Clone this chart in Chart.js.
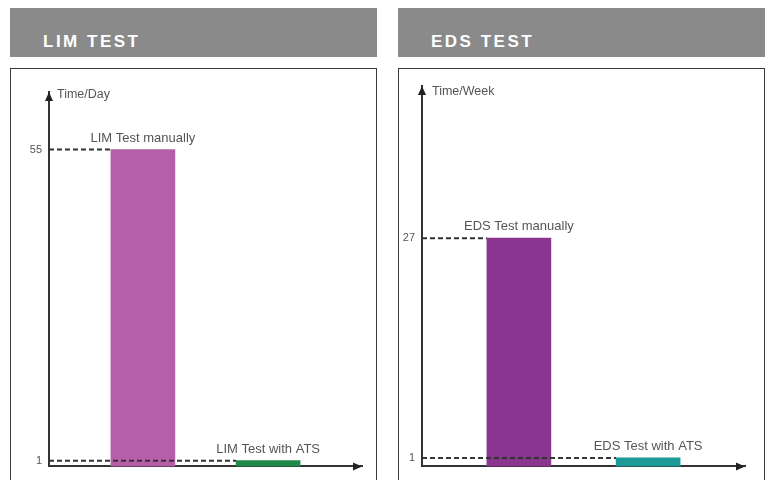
<!DOCTYPE html>
<html>
<head>
<meta charset="utf-8">
<script src="https://cdn.jsdelivr.net/npm/chart.js@4/dist/chart.umd.min.js"></script>
<style>
  body { margin: 0; width: 768px; height: 480px; background: #fff; position: relative; overflow: hidden; font-family: "Liberation Sans", Arial, sans-serif; }
  .head { position: absolute; top: 8px; width: 367px; height: 49px; background: #8a8a8b; }
  .head span { position: absolute; left: 33px; top: 24px; color: #fff; font-weight: bold; font-size: 17px; letter-spacing: 2.5px; }
  .box { position: absolute; top: 68px; width: 365px; height: 420px; border: 1px solid #3a3a3a; }
  canvas { position: absolute; top: 68px; }
</style>
</head>
<body>
<div class="head" style="left:10px"><span>LIM TEST</span></div>
<div class="head" style="left:398px"><span>EDS TEST</span></div>
<div class="box" style="left:10px"></div>
<div class="box" style="left:398px"></div>
<canvas id="limChart" width="367" height="412" style="left:10px"></canvas>
<canvas id="edsChart" width="367" height="412" style="left:398px"></canvas>
<script>
// LIM test (time per day)
var limCategories = ['LIM Test manually', 'LIM Test with ATS'];
var limValues = [55, 1];
var limTicks = [1, 55];
var limColors = ['#b45fa8', '#1f8a4a'];

// EDS test (time per week)
var edsCategories = ['EDS Test manually', 'EDS Test with ATS'];
var edsValues = [27, 1];
var edsTicks = [1, 27];
var edsColors = ['#8a3590', '#1b9a98'];

var sketchPlugin = {
    id: 'sketch',
    afterDatasetsDraw: function(chart, args, opts) {
        var ctx = chart.ctx;
        var area = chart.chartArea;
        var y = chart.scales.y;
        var bars = chart.getDatasetMeta(0).data;
        var vals = chart.data.datasets[0].data;
        ctx.save();
        // dashed guide lines from the y axis to each bar
        ctx.strokeStyle = '#333';
        ctx.lineWidth = 2;
        ctx.setLineDash([5, 3]);
        for (var i = 0; i < bars.length; i++) {
            var py = y.getPixelForValue(vals[i].y);
            ctx.beginPath();
            ctx.moveTo(area.left, py);
            ctx.lineTo(bars[i].x - bars[i].width / 2, py);
            ctx.stroke();
        }
        ctx.setLineDash([]);
        // bar captions
        ctx.fillStyle = '#555';
        ctx.font = '13px "Liberation Sans", Arial, sans-serif';
        ctx.textAlign = 'center';
        ctx.textBaseline = 'alphabetic';
        for (i = 0; i < bars.length; i++) {
            ctx.fillText(opts.labels[i], bars[i].x, bars[i].y - 8);
        }
        // axis caption
        ctx.textAlign = 'left';
        ctx.textBaseline = 'middle';
        ctx.font = '12.5px "Liberation Sans", Arial, sans-serif';
        ctx.fillText(opts.unit, area.left + opts.unitDx, area.top + opts.unitDy);
        ctx.restore();
    },
    afterDraw: function(chart) {
        var ctx = chart.ctx;
        var a = chart.chartArea;
        ctx.save();
        ctx.fillStyle = '#222';
        ctx.beginPath();
        ctx.moveTo(a.left, a.top);
        ctx.lineTo(a.left - 4, a.top + 9);
        ctx.lineTo(a.left + 4, a.top + 9);
        ctx.fill();
        ctx.beginPath();
        ctx.moveTo(a.right, a.bottom);
        ctx.lineTo(a.right - 9, a.bottom - 4);
        ctx.lineTo(a.right - 9, a.bottom + 4);
        ctx.fill();
        ctx.restore();
    }
};

function makeChart(id, cats, vals, ticks, colors, unit, yMax, axisW, pad, unitDx, unitDy) {
    var ctx = document.getElementById(id).getContext('2d');
    var points = vals.map(function(v, i) { return {x: i + 1, y: v}; });
    return new Chart(ctx, {
        type: 'bar',
        data: {
            datasets: [{
                data: points,
                backgroundColor: colors,
                barThickness: 64
            }]
        },
        options: {
            responsive: false,
            animation: false,
            layout: {padding: pad},
            plugins: {
                legend: {display: false},
                tooltip: {enabled: false},
                sketch: {labels: cats, unit: unit, unitDx: unitDx, unitDy: unitDy}
            },
            scales: {
                x: {
                    type: 'linear',
                    min: 0.25,
                    max: 2.75,
                    offset: false,
                    z: 1,
                    ticks: {display: false},
                    grid: {display: false, drawTicks: false},
                    border: {color: '#333', width: 2},
                    afterFit: function(s) { s.height = 13; }
                },
                y: {
                    min: 0,
                    max: yMax,
                    z: 1,
                    grid: {display: false, drawTicks: false},
                    border: {color: '#333', width: 2},
                    ticks: {color: '#555', padding: 7, font: {size: 11, family: '"Liberation Sans", Arial, sans-serif'}},
                    afterBuildTicks: function(s) { s.ticks = ticks.map(function(v) { return {value: v}; }); },
                    afterFit: function(s) { s.width = axisW; }
                }
            }
        },
        plugins: [sketchPlugin]
    });
}

makeChart('limChart', limCategories, limValues, limTicks, limColors, 'Time/Day', 65, 39, {top: 24, right: 15, bottom: 0, left: 0}, 8, 3);
makeChart('edsChart', edsCategories, edsValues, edsTicks, edsColors, 'Time/Week', 45, 24, {top: 18, right: 20, bottom: 0, left: 0}, 10, 6);
</script>
</body>
</html>
